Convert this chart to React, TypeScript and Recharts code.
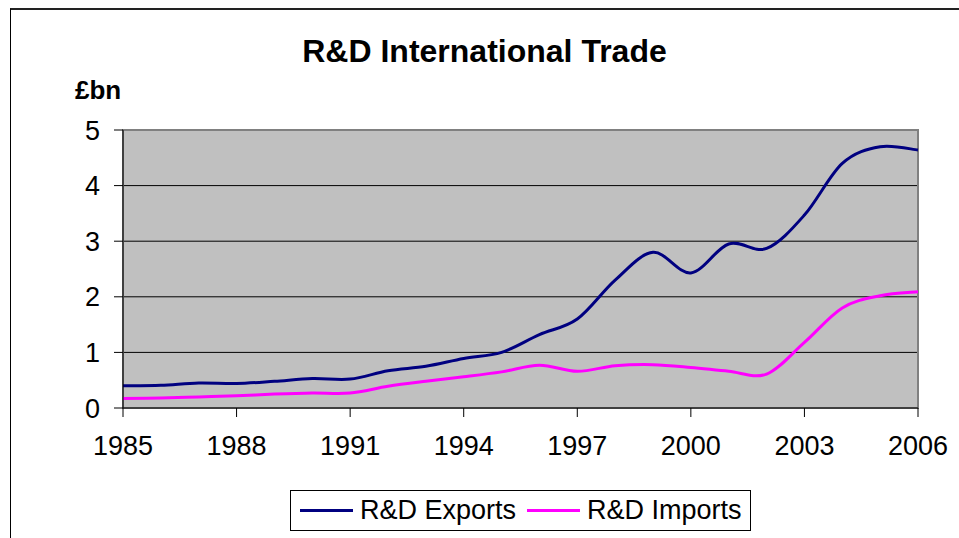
import React from "react"
import { LineChart, Line, XAxis, YAxis, CartesianGrid, Legend, ReferenceArea } from "recharts"

// values in £bn, read off the reference picture
const years = [
  1985, 1986, 1987, 1988, 1989, 1990, 1991, 1992, 1993, 1994, 1995,
  1996, 1997, 1998, 1999, 2000, 2001, 2002, 2003, 2004, 2005, 2006,
]
const rdExports = [
  0.4, 0.41, 0.45, 0.44, 0.48, 0.53, 0.52, 0.67, 0.75, 0.89, 1.0,
  1.32, 1.6, 2.3, 2.8, 2.43, 2.95, 2.87, 3.47, 4.4, 4.7, 4.64,
]
const rdImports = [
  0.17, 0.18, 0.2, 0.22, 0.25, 0.27, 0.27, 0.39, 0.48, 0.56, 0.65,
  0.77, 0.66, 0.76, 0.78, 0.73, 0.66, 0.61, 1.18, 1.8, 2.02, 2.09,
]
const xTicks = [1985, 1988, 1991, 1994, 1997, 2000, 2003, 2006]
const yTicks = [0, 1, 2, 3, 4, 5]

const data = years.map((year, i) => ({
  year,
  exports: rdExports[i],
  imports: rdImports[i],
}))

const FONT = '"Liberation Sans", Arial, sans-serif'
const NAVY = "#000080"
const MAGENTA = "#ff00ff"

// Excel-like smoothed line (Catmull-Rom as cubic beziers)
function excelSmooth(context: any) {
  let pts: number[][] = []
  return {
    areaStart() {},
    areaEnd() {},
    lineStart() {
      pts = []
    },
    point(x: number, y: number) {
      pts.push([+x, +y])
    },
    lineEnd() {
      if (!pts.length) return
      context.moveTo(pts[0][0], pts[0][1])
      for (let i = 0; i < pts.length - 1; i++) {
        const p0 = pts[Math.max(i - 1, 0)]
        const p1 = pts[i]
        const p2 = pts[i + 1]
        const p3 = pts[Math.min(i + 2, pts.length - 1)]
        context.bezierCurveTo(
          p1[0] + (p2[0] - p0[0]) / 6,
          p1[1] + (p2[1] - p0[1]) / 6,
          p2[0] - (p3[0] - p1[0]) / 6,
          p2[1] - (p3[1] - p1[1]) / 6,
          p2[0],
          p2[1]
        )
      }
    },
  }
}

function LegendBox() {
  const item = (color: string, label: string) => (
    <div style={{ display: "flex", alignItems: "center" }}>
      <div style={{ width: 53, height: 3, background: color, marginRight: 7 }} />
      <span>{label}</span>
    </div>
  )
  return (
    <div
      style={{
        boxSizing: "border-box",
        width: 461,
        height: 41,
        border: "1px solid #000",
        display: "flex",
        alignItems: "center",
        gap: 11,
        paddingLeft: 9,
        fontFamily: FONT,
        fontSize: 27,
        color: "#000",
        background: "#fff",
        whiteSpace: "nowrap",
      }}
    >
      {item(NAVY, "R&D Exports")}
      {item(MAGENTA, "R&D Imports")}
    </div>
  )
}

export default function App() {
  return (
    <div style={{ position: "absolute", left: 0, top: 0, width: 959, height: 538, background: "#fff", fontFamily: FONT }}>
      <div
        style={{
          position: "absolute",
          left: 10,
          top: 8,
          width: 960,
          height: 540,
          borderLeft: "1px solid #000",
          borderTop: "2px solid #222",
        }}
      />
      <svg width={959} height={538} style={{ position: "absolute", left: 0, top: 0 }}>
        <text x={484.5} y={61.5} textAnchor="middle" fontFamily={FONT} fontWeight="bold" fontSize={32} fill="#000">
          R&amp;D International Trade
        </text>
        <text x={75} y={99} fontFamily={FONT} fontWeight="bold" fontSize={26} fill="#000">
          £bn
        </text>
      </svg>
      <div style={{ position: "absolute", left: 0, top: 0 }}>
        <LineChart width={959} height={538} data={data} margin={{ top: 130, right: 41, left: 63, bottom: 49 }}>
          <CartesianGrid
            vertical={false}
            horizontalValues={[1, 2, 3, 4]}
            stroke="#000"
            strokeWidth={1}
            fill="#c0c0c0"
            fillOpacity={1}
          />
          <ReferenceArea
            x1={1985}
            x2={2006}
            y1={0}
            y2={5}
            fill="none"
            stroke="#808080"
            strokeWidth={2}
            ifOverflow="visible"
          />
          <XAxis
            dataKey="year"
            type="number"
            domain={[1985, 2006]}
            ticks={xTicks}
            height={40}
            tickSize={9}
            tickMargin={19}
            stroke="#000"
            tick={{ fill: "#000", fontSize: 27, fontFamily: FONT }}
          />
          <YAxis
            type="number"
            domain={[0, 5]}
            ticks={yTicks}
            width={60}
            tickSize={9}
            tickMargin={14}
            stroke="#000"
            tick={{ fill: "#000", fontSize: 27, fontFamily: FONT }}
          />
          <Legend
            verticalAlign="bottom"
            wrapperStyle={{ left: 290, top: 490, bottom: "auto", width: 461, height: 41 }}
            content={() => <LegendBox />}
          />
          <Line
            dataKey="imports"
            name="R&D Imports"
            type={excelSmooth as any}
            stroke={MAGENTA}
            strokeWidth={3}
            dot={false}
            activeDot={false}
            isAnimationActive={false}
          />
          <Line
            dataKey="exports"
            name="R&D Exports"
            type={excelSmooth as any}
            stroke={NAVY}
            strokeWidth={3}
            dot={false}
            activeDot={false}
            isAnimationActive={false}
          />
        </LineChart>
      </div>
    </div>
  )
}
